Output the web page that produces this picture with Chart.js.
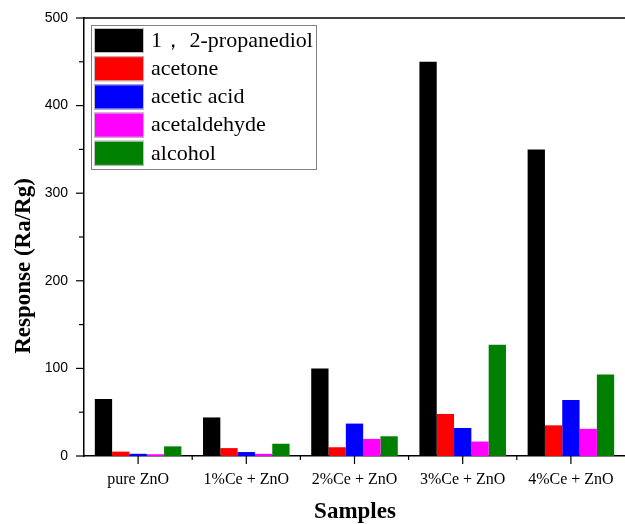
<!DOCTYPE html>
<html>
<head>
<meta charset="utf-8">
<script src="https://cdn.jsdelivr.net/npm/chart.js@4"></script>
<style>
html,body{margin:0;padding:0;background:#fff;}
#wrap{width:625px;height:524px;position:relative;}
</style>
</head>
<body>
<div id="wrap"><canvas id="c" width="625" height="524"></canvas></div>
<script>
const categories = ['pure ZnO', '1%Ce + ZnO', '2%Ce + ZnO', '3%Ce + ZnO', '4%Ce + ZnO'];
const seriesNames = ['1\uFF0C 2-propanediol', 'acetone', 'acetic acid', 'acetaldehyde', 'alcohol'];
const propanediol = [65, 44, 100, 450, 350];
const acetone = [5, 9, 10, 48, 35];
const aceticAcid = [2.5, 4.5, 37, 32, 64];
const acetaldehyde = [2, 2.5, 19.5, 16.5, 31];
const alcohol = [11, 14, 22.5, 127, 93];
const colors = ['#000000', '#ff0000', '#0000ff', '#ff00ff', '#008000'];
const yTitle = 'Response (Ra/Rg)';
const xTitle = 'Samples';

const SERIF = "'Liberation Serif', 'Times New Roman', serif";
const SANS = "'Liberation Sans', Arial, sans-serif";

const values = [propanediol, acetone, aceticAcid, acetaldehyde, alcohol];
const datasets = values.map((v, i) => ({
  label: seriesNames[i],
  data: v,
  backgroundColor: colors[i],
  borderWidth: 0,
  categoryPercentage: 0.8,
  barPercentage: 1.0
}));

const decor = {
  id: 'decor',
  afterDraw(chart) {
    const ctx = chart.ctx;
    const xs = chart.scales.x, ys = chart.scales.y;
    const area = chart.chartArea;
    ctx.save();
    ctx.strokeStyle = '#000';
    ctx.lineWidth = 1.5;
    // top frame line
    ctx.beginPath();
    ctx.moveTo(area.left, area.top);
    ctx.lineTo(chart.width, area.top);
    ctx.stroke();
    // y ticks
    ctx.lineWidth = 1.2;
    for (let v = 0; v <= 500; v += 50) {
      const y = ys.getPixelForValue(v);
      const len = (v % 100 === 0) ? 8 : 5;
      ctx.beginPath();
      ctx.moveTo(area.left - len, y);
      ctx.lineTo(area.left, y);
      ctx.stroke();
    }
    // x ticks
    for (let i = 0; i < categories.length; i++) {
      const x = xs.getPixelForValue(i);
      ctx.beginPath();
      ctx.moveTo(x, area.bottom);
      ctx.lineTo(x, area.bottom + 8);
      ctx.stroke();
      if (i < categories.length - 1) {
        const xm = (x + xs.getPixelForValue(i + 1)) / 2;
        ctx.beginPath();
        ctx.moveTo(xm, area.bottom);
        ctx.lineTo(xm, area.bottom + 4);
        ctx.stroke();
      }
    }
    // axis titles
    ctx.fillStyle = '#000';
    ctx.font = 'bold 23px ' + SERIF;
    ctx.textAlign = 'center';
    ctx.textBaseline = 'middle';
    ctx.fillText(xTitle, 355, 512);
    ctx.save();
    ctx.translate(24, 266);
    ctx.rotate(-Math.PI / 2);
    ctx.fillText(yTitle, 0, 0);
    ctx.restore();
    // legend
    const lx = 91, ly = 25, lw = 225, lh = 144;
    ctx.strokeStyle = '#808080';
    ctx.lineWidth = 1;
    ctx.strokeRect(lx + 0.5, ly + 0.5, lw, lh);
    ctx.font = '22px ' + SERIF;
    ctx.textAlign = 'left';
    ctx.textBaseline = 'middle';
    chart.data.datasets.forEach((ds, i) => {
      const ry = 28 + i * 28.2;
      ctx.fillStyle = ds.backgroundColor;
      ctx.fillRect(94, ry, 50, 25);
      ctx.strokeStyle = '#c0c0c0';
      ctx.strokeRect(94.5, ry + 0.5, 49, 24);
      ctx.fillStyle = '#000';
      ctx.fillText(ds.label, 151, ry + 13);
    });
    ctx.restore();
  }
};

new Chart(document.getElementById('c'), {
  type: 'bar',
  data: { labels: categories, datasets },
  options: {
    responsive: false,
    animation: false,
    devicePixelRatio: 1,
    layout: { padding: { top: 18, right: 0, left: 0, bottom: 0 } },
    plugins: { legend: { display: false }, tooltip: { enabled: false } },
    scales: {
      x: {
        grid: { display: false, drawTicks: false },
        border: { display: true, color: '#000', width: 1.5 },
        ticks: { color: '#000', font: { family: SERIF, size: 16 }, padding: 14, maxRotation: 0, autoSkip: false },
        afterFit(s) { s.height = 68; s.paddingLeft = 0; s.paddingRight = 0; }
      },
      y: {
        min: 0, max: 500,
        grid: { display: false, drawTicks: false },
        border: { display: true, color: '#000', width: 1.5 },
        ticks: {
          stepSize: 50,
          color: '#000',
          font: { family: SANS, size: 14 },
          padding: 16,
          callback: (v) => (v % 100 === 0 ? String(v) : '')
        },
        afterFit(s) { s.width = 84; s.paddingTop = 0; s.paddingBottom = 0; }
      }
    }
  },
  plugins: [decor]
});
</script>
</body>
</html>
